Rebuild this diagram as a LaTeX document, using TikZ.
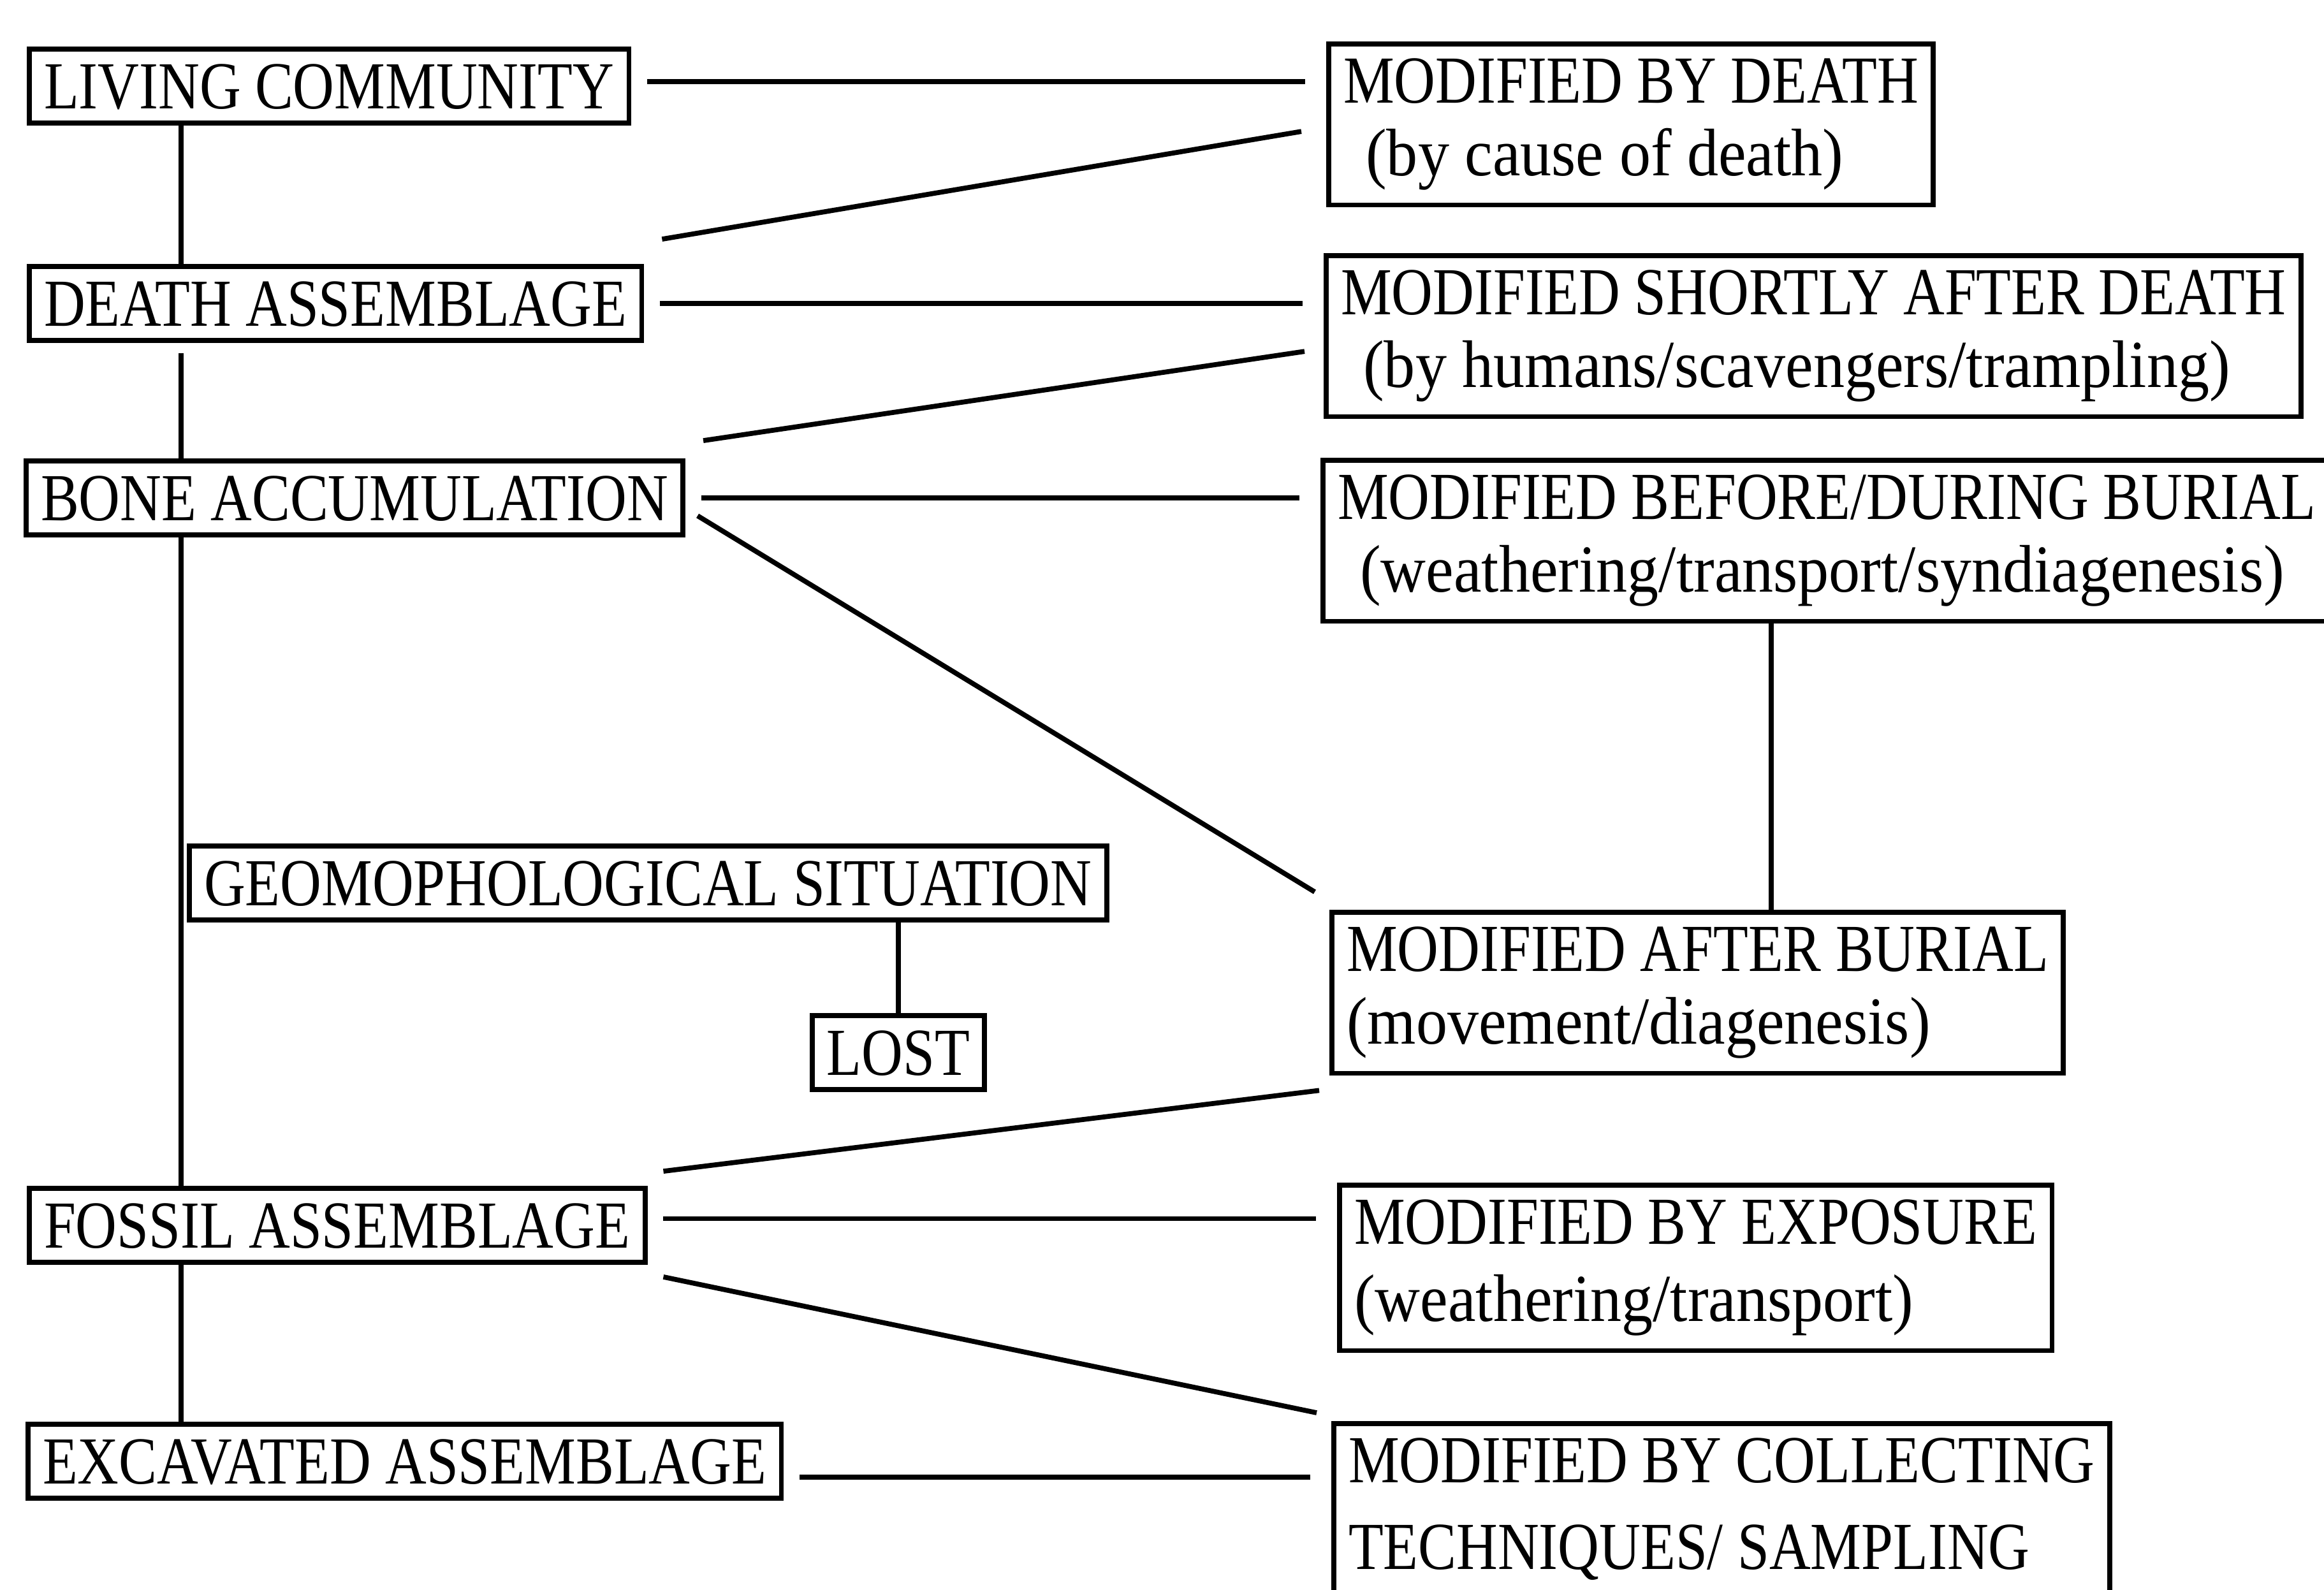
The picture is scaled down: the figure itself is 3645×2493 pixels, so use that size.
\documentclass[tikz,border=0pt]{standalone}
\usepackage{fontspec}
\setmainfont[FakeStretch=0.85]{Liberation Serif}
\newfontfamily\notefont[FakeStretch=0.93]{Liberation Serif}
\usepackage{tikz}
\usetikzlibrary{positioning}

\begin{document}
\begin{tikzpicture}[
  x=0.01cm, y=-0.01cm,
  box/.style={draw,line width=2.2pt,inner xsep=6.6pt,inner ysep=6.5pt,
              font=\fontsize{30}{32.5}\selectfont},
  stage/.style={box,anchor=west,text height=20pt,text depth=0pt},
  effect/.style={box,anchor=north west,align=left},
  link/.style={line width=2.2pt},
  gap/.style={shorten <=7pt,shorten >=9.5pt}
]
\useasboundingbox (0,0) rectangle (3645,2493);

% stages (left column)
\node[stage] (living) at (42,135)   {LIVING COMMUNITY};
\node[stage] (death)  at (42,476)   {DEATH ASSEMBLAGE};
\node[stage] (bone)   at (37,781)   {BONE ACCUMULATION};
\node[stage] (geo)    at (293,1385) {GEOMOPHOLOGICAL SITUATION};
\node[stage,anchor=center] (lost) at (1409,1651) {LOST};
\node[stage] (fossil) at (42,1922)  {FOSSIL ASSEMBLAGE};
\node[stage] (excav)  at (40,2292)  {EXCAVATED ASSEMBLAGE};
\coordinate (spine) at (284,0);

% modifications (right column)
\node[effect] (mdeath)  at (2080,65)   {MODIFIED BY DEATH\\\hspace*{10pt}\notefont(by cause of death)};
\node[effect] (mshort)  at (2076,397)  {MODIFIED SHORTLY AFTER DEATH\\\hspace*{10pt}\notefont(by humans/scavengers/trampling)};
\node[effect] (mbefore) at (2071,718)  {MODIFIED BEFORE/DURING BURIAL\\\hspace*{10pt}\notefont(weathering/transport/syndiagenesis)};
\node[effect] (mafter)  at (2085,1427) {MODIFIED AFTER BURIAL\\\notefont(movement/diagenesis)};
\node[effect] (mexpo)   at (2097,1855) {MODIFIED BY EXPOSURE\\[2pt]\notefont(weathering/transport)};
\node[effect] (mcoll)   at (2088,2229) {MODIFIED BY COLLECTING\\[6pt]TECHNIQUES/ SAMPLING};

% spine
\draw[link] (living.south -| spine) -- (death.north -| spine);
\draw[link,shorten <=4.5pt] (death.south -| spine) -- (bone.north -| spine);
\draw[link] (bone.south -| spine) -- (fossil.north -| spine);
\draw[link] (fossil.south -| spine) -- (excav.north -| spine);
\draw[link] (geo.south -| lost) -- (lost);

% straight links
\draw[link,gap] ([yshift=2pt]living.east) -- ([yshift=2pt]living.east -| mdeath.west);
\draw[link,gap] (death) -- (death -| mshort.west);
\draw[link,gap] (bone) -- (bone -| mbefore.west);
\draw[link,gap] ([yshift=3pt]fossil.east) -- ([yshift=3pt]fossil.east -| mexpo.west);
\draw[link,gap] ([yshift=-7pt]excav.east) -- ([yshift=-7pt]excav.east -| mcoll.west);

% slanted links
\draw[link] ([shift={(28,-39)}]death.north east) -- ([shift={(-39,11)}]mdeath.west);
\draw[link] ([shift={(28,-28)}]bone.north east) -- ([shift={(-30,24)}]mshort.west);
\draw[link] ([shift={(19,28)}]bone.east) -- ([shift={(-23,-28)}]mafter.north west);
\draw[link] ([shift={(25,-23)}]fossil.north east) -- ([shift={(-16,23)}]mafter.south west);
\draw[link] ([shift={(25,19)}]fossil.south east) -- ([shift={(-23,-13)}]mcoll.north west);

% burial tie
\coordinate (tie) at ([shift={(693,0)}]mafter.north west);
\draw[link] (tie) -- (tie |- mbefore.south);

\end{tikzpicture}
\end{document}
